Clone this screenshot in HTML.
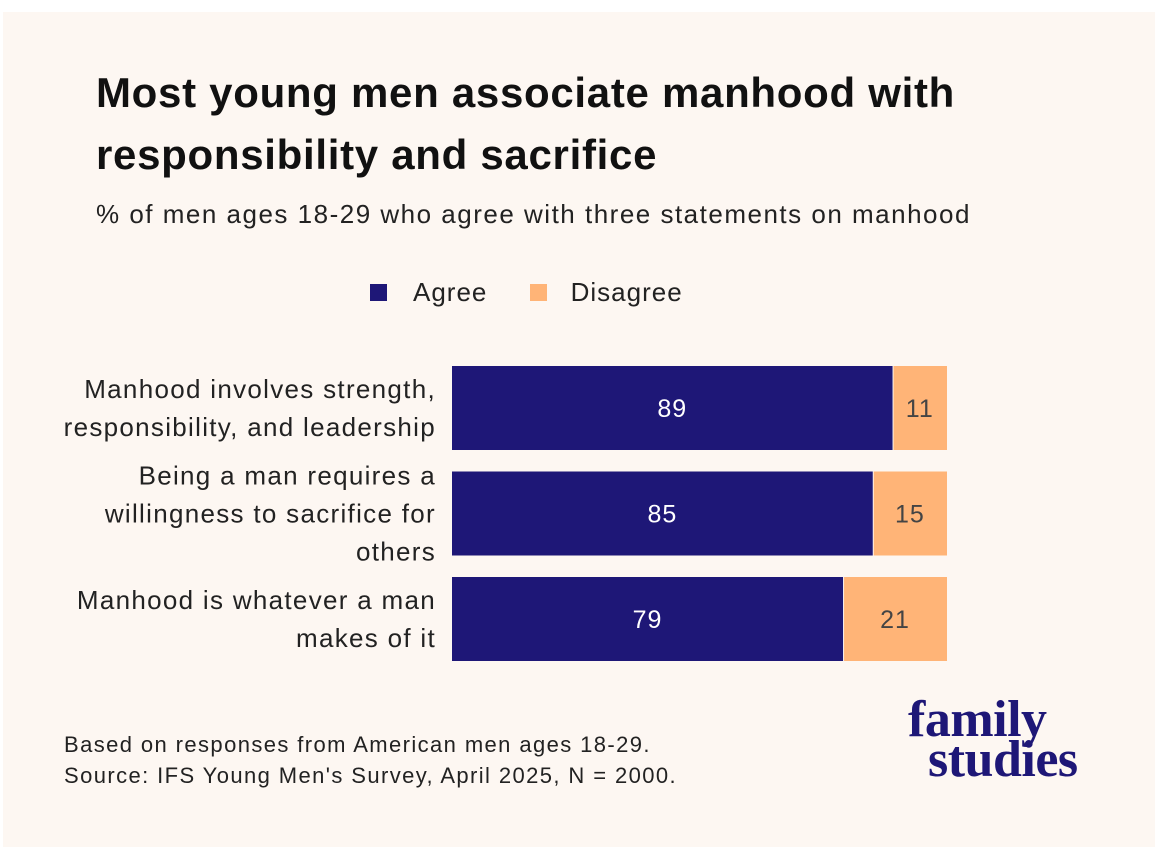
<!DOCTYPE html>
<html><head><meta charset="utf-8"><style>
body{margin:0;width:1157px;height:857px;background:#fff;position:relative;overflow:hidden;font-family:"Liberation Sans",sans-serif}
#card{position:absolute;left:3px;top:12px;width:1152px;height:835px;background:#fdf7f2}
.t{position:absolute;white-space:nowrap}
</style></head><body>
<div id="card"></div>
<div class="t" style="left:96px;top:62px;font-size:42px;font-weight:bold;line-height:62px;color:#111;letter-spacing:0.7px">Most young men associate manhood with<br>responsibility and sacrifice</div>
<div class="t" style="left:96px;top:199px;font-size:26px;letter-spacing:1.5px;color:#222">% of men ages 18-29 who agree with three statements on manhood</div>
<div class="t" style="left:370px;top:277px;font-size:26px;letter-spacing:1px;color:#222">
<span><span style="display:inline-block;width:17px;height:17px;background:#1e1777;margin-right:26px"></span>Agree</span>
<span style="margin-left:34px"><span style="display:inline-block;width:17px;height:17px;background:#ffb477;margin-right:24px"></span>Disagree</span></div>
<svg id="chart" width="1157" height="857" style="position:absolute;left:0;top:0"></svg>
<div class="t" style="left:64px;top:729px;font-size:22px;letter-spacing:1.4px;line-height:31px;color:#222">Based on responses from American men ages 18-29.<br>Source: IFS Young Men's Survey, April 2025, N = 2000.</div>
<div class="t" style="left:908px;top:700px;font-family:'Liberation Serif',serif;font-weight:bold;font-size:52px;line-height:40px;color:#1e1777;letter-spacing:-0.5px">family<br><span style="margin-left:20px">studies</span></div>
<script>
const categories=[["Manhood involves strength,","responsibility, and leadership"],["Being a man requires a","willingness to sacrifice for","others"],["Manhood is whatever a man","makes of it"]];
const agree=[89,85,79];
const disagree=[11,15,21];
const svg=document.getElementById('chart');const NS='http://www.w3.org/2000/svg';
const x0=452,w=495,y0=366,step=105.5,bh=84;
const xs=v=>v/100*w;
function mk(t,a){const e=document.createElementNS(NS,t);for(const k in a)e.setAttribute(k,a[k]);svg.appendChild(e);return e;}
categories.forEach((c,i)=>{
 const y=y0+i*step;
 const a=mk('rect',{x:x0,y:y,width:xs(agree[i]),height:bh,fill:'#1e1777'});
 
 
 const d=mk('rect',{x:x0+xs(agree[i])+1,y:y,width:xs(disagree[i])-1,height:bh,fill:'#ffb477'});
 
 
 const t1=mk('text',{x:x0+xs(agree[i])/2,y:y+bh/2+9,'text-anchor':'middle','font-size':25,'letter-spacing':1,fill:'#fff'});t1.textContent=agree[i];
 
 
 const t2=mk('text',{x:x0+xs(agree[i])+xs(disagree[i])/2,y:y+bh/2+9,'text-anchor':'middle','font-size':25,'letter-spacing':1,fill:'#444'});t2.textContent=disagree[i];
 
 
 const lh=38,top=y+bh/2-(c.length-1)*lh/2+9;
 c.forEach((line,j)=>{const l=mk('text',{x:436,y:top+j*lh,'text-anchor':'end','font-size':26,'letter-spacing':1.3,fill:'#222'});l.textContent=line;
 
 });
});
</script>
</body></html>
